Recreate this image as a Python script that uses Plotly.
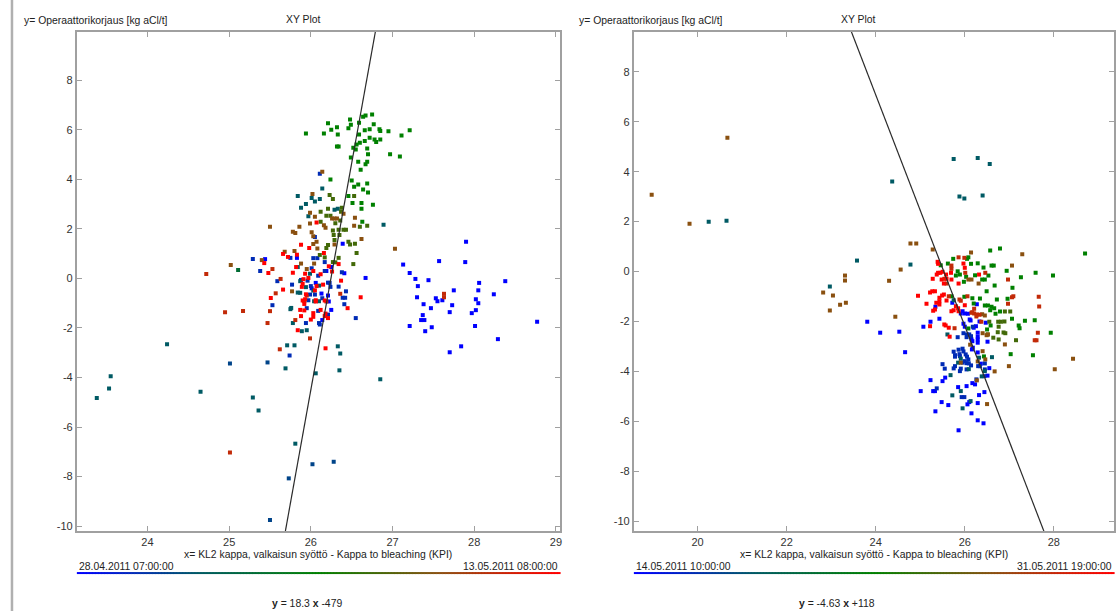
import plotly.graph_objects as go
from plotly.colors import sample_colorscale

# ---------------- data ----------------
# time band -> position in the time colour scale (0 = start date, 1 = end date)
BAND_T = {"blue": 0.0, "dblue": 0.12, "tealblue": 0.19, "teal": 0.25, "gteal": 0.37,
          "green": 0.5, "olive": 0.62, "brown": 0.75, "bred": 0.87, "red": 1.0}
TIME_COLORSCALE = [[0.0, "#0000ff"], [0.25, "#005a64"], [0.5, "#008000"],
                   [0.75, "#8a5010"], [1.0, "#ff0000"]]

X_TICKS_LEFT = [24, 25, 26, 27, 28, 29]
X_TICKS_RIGHT = [20, 22, 24, 26, 28]
Y_TICKS = [-10, -8, -6, -4, -2, 0, 2, 4, 6, 8]
Y_TICK_TEXT = ["-10", "-8", "-6", "-4", "-2", "0", "2", "4", "6", "8"]

# regression equations as printed under each plot
LEFT_SLOPE, LEFT_INTERCEPT = 18.3, -479
RIGHT_SLOPE, RIGHT_INTERCEPT = -4.63, 118
# regression lines as drawn in the picture (printed values are rounded)
LEFT_LINE = (18.3, -480.3)
RIGHT_LINE = (-4.63, 118.2)

LEFT_DATES = ("28.04.2011 07:00:00", "13.05.2011 08:00:00")
RIGHT_DATES = ("14.05.2011 10:00:00", "31.05.2011 19:00:00")
TITLE = "XY Plot"
Y_TITLE = "y= Operaattorikorjaus [kg aCl/t]"
X_TITLE = "x= KL2 kappa, valkaisun syöttö - Kappa to bleaching (KPI)"

# ---- left plot points (x, y) per time band ----
LEFT_BLUE = [(27.90, 1.48), (27.57, 0.70), (27.89, 0.66), (27.13, 0.56), (27.21, 0.22), (27.28, -0.02),
             (27.44, -0.07), (27.31, -0.31), (28.06, -0.18), (28.38, -0.11), (27.75, -0.48), (28.05, -0.48),
             (28.24, -0.64), (27.30, -0.76), (27.53, -0.80), (27.55, -0.92), (27.61, -0.88), (28.02, -0.84),
             (28.05, -1.00), (27.38, -1.04), (27.73, -1.08), (27.47, -1.20), (28.02, -1.28), (27.70, -1.36),
             (27.97, -1.40), (27.37, -1.48), (27.35, -1.68), (27.39, -1.68), (27.21, -1.92), (27.48, -1.97),
             (27.40, -2.13), (28.01, -1.92), (28.29, -2.45), (27.84, -2.74), (27.70, -2.98), (28.77, -1.75),
             (26.67, 0.02), (25.44, 0.78), (25.83, 0.83), (26.19, 0.30), (26.25, 0.46), (26.41, 0.21),
             (26.25, -1.27), (26.14, -1.68), (26.22, -0.93), (26.21, -0.69), (26.13, -0.61), (26.06, -0.18),
             (26.01, -0.40), (26.39, 1.40)]
LEFT_DBLUE = [(26.55, -1.60), (25.74, -3.11), (25.29, 0.78), (25.38, 0.30), (25.59, -0.11), (25.75, 0.83),
              (26.17, 0.66), (26.08, 0.82), (26.03, 0.82), (26.01, 0.41), (26.09, 0.11), (25.88, -0.06),
              (25.96, -0.09), (26.17, 0.30), (26.38, 0.25), (26.34, -0.33), (26.43, -0.52), (26.39, -0.78),
              (26.42, -0.78), (26.41, -1.04), (26.21, -1.46), (26.10, -1.80), (26.11, -1.86), (26.21, -0.17),
              (26.23, -0.18), (26.24, -0.34), (26.14, -0.80), (26.05, -0.65), (25.99, -0.65), (25.95, -1.20),
              (25.97, -0.88), (25.77, -0.25), (26.00, -0.31), (25.53, -1.08), (25.94, -1.80), (26.09, -1.31),
              (26.11, 4.23), (26.05, 1.67)]
LEFT_TEALBLUE = [(25.47, -3.39), (25.01, -3.43), (25.73, -8.07), (25.50, -9.75), (26.02, -7.50), (26.28, -7.40)]
LEFT_TEAL = [(23.38, -4.83), (23.53, -4.44), (23.55, -3.95), (24.24, -2.66), (25.81, -6.67), (26.85, -4.07),
             (26.35, -3.71), (26.36, -3.03), (26.33, -2.74), (26.06, -3.83), (25.71, -2.70), (25.80, -2.70),
             (25.69, -3.63), (25.29, -4.81), (25.36, -5.33), (24.65, -4.57), (25.84, 0.46), (25.99, 0.19),
             (26.10, -0.29), (26.04, -0.92), (26.10, -0.92), (25.87, -0.58), (25.84, -0.57), (25.87, -0.11),
             (25.94, -0.35), (26.03, -0.49), (25.75, -1.24), (25.76, -1.19), (25.78, -1.80), (25.89, -2.13),
             (25.95, -2.09), (26.14, 3.63), (25.84, 3.33), (26.01, 3.25), (26.05, 3.11), (26.11, 3.21),
             (25.94, 3.01), (25.88, 2.85), (26.29, 2.77), (26.33, 2.81), (25.97, 2.51), (26.89, 2.17)]
LEFT_GTEAL = [(25.11, 0.34)]
LEFT_GREEN = [(26.75, 6.62), (26.67, 6.58), (26.64, 6.53), (26.48, 6.42), (26.59, 6.28), (26.21, 6.26),
              (26.49, 6.20), (26.46, 6.06), (26.32, 6.10), (26.25, 6.00), (26.77, 6.22), (26.72, 6.02),
              (26.66, 5.98), (26.84, 6.02), (26.85, 5.95), (26.95, 5.94), (27.21, 5.98), (27.11, 5.77),
              (25.94, 5.85), (26.16, 5.85), (26.33, 5.81), (26.59, 5.81), (26.78, 5.61), (26.80, 5.51),
              (26.72, 5.68), (26.85, 5.61), (26.66, 5.55), (26.60, 5.48), (26.56, 5.41), (26.32, 5.33),
              (26.34, 5.33), (26.52, 5.28), (26.55, 5.21), (26.69, 5.25), (26.70, 5.01), (26.97, 5.01),
              (27.09, 4.92), (26.49, 4.88), (26.58, 4.71), (26.69, 4.71), (26.67, 4.61), (26.61, 4.39),
              (26.24, 3.99), (26.50, 3.95), (26.58, 3.79), (26.69, 3.83), (26.53, 3.70), (26.64, 3.59),
              (26.70, 3.47), (26.46, 3.33), (26.51, 3.05), (26.62, 3.05), (26.62, 2.81), (26.76, 2.97),
              (26.63, 2.29)]
LEFT_OLIVE = [(26.53, 3.33), (26.23, 3.37), (26.27, 3.21), (26.21, 2.81), (26.38, 2.85), (26.37, 2.69),
              (26.12, 2.69), (26.19, 2.53), (26.24, 2.53), (26.12, 2.29), (26.30, 2.23), (26.36, 2.34),
              (26.60, 2.09), (26.69, 2.13), (26.27, 1.94), (26.34, 1.97), (26.40, 1.97), (26.43, 1.97),
              (26.28, 1.75), (26.35, 1.75), (26.29, 1.55), (26.46, 1.48), (26.48, 1.37), (26.54, 1.40),
              (26.21, 1.35), (26.19, 1.23), (26.11, 0.95), (26.17, 0.85), (26.27, 0.66), (26.30, 0.65),
              (26.34, 0.83), (26.56, 1.03), (26.52, 0.58)]
LEFT_BROWN = [(26.14, 4.31), (26.02, 3.41), (26.40, 2.61), (25.99, 2.65), (26.05, 2.49), (26.26, 2.42),
              (26.29, 2.42), (26.32, 2.42), (26.54, 2.45), (25.99, 2.22), (26.16, 2.15), (26.18, 2.05),
              (26.53, 2.13), (25.50, 2.09), (25.86, 2.09), (25.78, 1.88), (25.81, 1.83), (26.01, 1.86),
              (26.03, 1.70), (26.07, 1.48), (26.62, 1.59), (26.29, 1.37), (26.03, 1.39), (27.03, 1.20),
              (26.08, 1.21), (25.02, 0.54), (25.40, 0.74), (25.68, 1.08), (25.80, 1.11), (25.88, 0.60),
              (25.95, 0.38), (26.04, 0.60), (25.77, -0.52)]
LEFT_BRED = [(25.01, -7.03), (27.63, -0.62), (27.63, -0.76), (25.99, -2.42), (25.62, -2.86), (24.72, 0.18),
             (24.95, -1.36), (25.17, -1.31), (25.53, 0.38), (25.63, -0.02), (26.36, -0.62), (26.19, -0.93),
             (25.95, -0.69), (25.92, -0.92), (25.57, -0.60), (25.50, -1.32), (25.81, -1.68), (25.47, -1.80)]
LEFT_RED = [(26.61, -0.76), (26.18, -2.82), (25.43, 0.62), (25.48, 0.22), (25.66, 0.99), (25.72, 0.87),
            (25.83, 0.96), (25.98, 1.23), (25.88, 1.36), (26.16, 1.03), (25.82, 0.46), (25.78, 0.23),
            (26.03, 0.30), (25.97, 0.02), (25.93, 0.19), (25.91, -0.03), (26.12, 0.17), (26.22, 0.49),
            (26.26, 0.28), (26.34, 0.58), (26.37, -0.09), (26.45, -1.20), (26.18, -1.42), (26.17, -1.52),
            (26.21, -1.60), (26.15, -0.25), (26.17, -0.89), (26.07, -0.31), (26.05, -0.48), (26.06, -0.88),
            (26.06, -0.93), (25.93, -0.84), (25.90, -0.89), (25.92, -1.03), (25.94, -0.64), (25.89, -0.34),
            (25.90, -0.22), (25.66, -0.45), (25.51, -0.79), (25.87, -1.27), (25.92, -1.29), (25.88, -1.52),
            (26.03, -1.40), (26.03, -1.55), (26.00, -1.66), (26.12, -1.27), (25.84, -2.09), (26.07, 2.26)]

# ---- right plot points (x, y) per time band ----
RIGHT_BLUE = [(23.81, -2.01), (24.10, -2.45), (24.53, -2.41), (24.66, -3.23), (25.72, -1.25), (25.34, -1.41),
              (25.43, -1.89), (25.23, -2.01), (25.07, -2.21), (25.91, -1.68), (25.95, -1.59), (26.00, -1.68),
              (26.11, -1.92), (26.13, -1.96), (26.07, -1.69), (26.25, -2.19), (26.33, -2.00), (26.47, -2.05),
              (25.97, -2.09), (26.00, -2.21), (26.20, -2.25), (26.15, -2.72), (26.17, -2.79), (26.18, -3.05),
              (26.16, -3.12), (26.29, -2.72), (26.29, -2.61), (26.29, -2.45), (26.29, -2.85), (26.51, -2.81),
              (26.29, -3.24), (26.36, -3.69), (26.55, -3.87), (25.56, -4.25), (25.50, -4.39), (25.23, -4.35),
              (25.29, -4.79), (25.33, -4.79), (25.01, -4.79), (25.85, -4.63), (26.04, -4.59), (26.17, -4.47),
              (26.23, -4.52), (26.51, -4.17), (26.32, -4.95), (26.44, -4.83), (25.48, -5.23), (25.63, -5.35),
              (26.06, -5.32), (26.10, -5.23), (26.29, -5.27), (25.34, -5.60), (26.15, -5.68), (26.29, -5.96),
              (26.42, -6.08), (25.86, -6.36), (26.27, -1.31)]
RIGHT_DBLUE = [(25.84, -2.63), (25.97, -2.47), (26.05, -2.52), (26.04, -2.63), (26.10, -2.52), (26.14, -2.59),
               (26.45, -3.68), (26.30, -3.79), (26.34, -3.79), (26.45, -3.92), (25.95, -3.65), (25.75, -3.21),
               (25.78, -3.35), (25.78, -3.41), (25.86, -3.13), (25.88, -3.31), (25.89, -3.39), (25.95, -3.09),
               (25.97, -3.20), (26.02, -3.32), (26.05, -3.41), (26.08, -3.52), (26.00, -3.59), (26.04, -3.67),
               (26.09, -3.68), (26.14, -3.76), (25.78, -3.79), (25.75, -3.88), (25.91, -3.89), (25.89, -3.99),
               (26.04, -3.92), (25.50, -3.71), (25.55, -3.89), (25.37, -4.68), (26.26, -4.32), (26.44, -4.19),
               (25.93, -5.03), (25.99, -5.03), (26.18, -2.21)]
RIGHT_TEALBLUE = []
RIGHT_TEAL = [(25.75, 4.51), (26.29, 4.55), (26.56, 4.31), (24.37, 3.61), (25.88, 3.01), (25.99, 2.93),
              (26.40, 3.05), (20.25, 2.00), (20.65, 2.04), (23.58, 0.44), (22.97, -0.60), (24.78, 0.28),
              (25.75, -1.15), (25.61, -2.52), (26.32, -3.45), (26.61, -3.43), (25.91, -3.49), (25.85, -3.65),
              (26.09, -3.91), (25.68, -4.15), (26.38, -4.20), (26.45, -3.99), (25.91, -4.79), (25.72, -4.96),
              (26.13, -5.19), (25.95, -5.48)]
RIGHT_GTEAL = []
RIGHT_GREEN = [(25.46, 0.25), (25.62, 0.32), (25.74, 0.51), (26.08, 0.57), (26.05, 0.51), (25.84, 0.01),
               (25.89, -0.12), (26.14, 0.31), (26.29, 0.33), (26.42, 0.16), (26.57, 0.84), (26.79, 0.92),
               (26.60, 0.24), (26.65, 0.24), (26.94, 0.03), (27.59, -0.05), (27.98, -0.16), (25.80, -0.16),
               (25.98, -0.41), (26.03, -0.21), (26.23, -0.15), (26.53, -0.16), (26.39, -0.32), (26.45, -0.32),
               (26.49, -0.79), (26.67, -0.56), (27.07, -0.65), (27.26, -0.23), (26.96, -1.09), (26.72, -1.12),
               (25.70, -0.99), (25.99, -1.01), (26.17, -1.07), (26.20, -1.28), (26.34, -1.08), (26.45, -1.36),
               (26.52, -1.36), (26.60, -1.41), (26.66, -1.47), (26.57, -1.55), (26.69, -1.69), (26.79, -1.60),
               (26.58, -2.16), (27.06, -1.89), (27.35, -1.97), (27.57, -1.95), (27.21, -2.16), (27.23, -2.27),
               (26.50, -2.32), (27.93, -2.45), (27.03, -3.31), (27.53, -3.35), (26.08, -2.28), (26.43, -3.40),
               (28.70, 0.72)]
RIGHT_OLIVE = [(26.90, -1.60), (27.02, -1.60), (26.55, -2.01), (26.75, -2.01), (26.81, -2.01), (26.89, -2.00),
               (26.76, -2.21), (26.51, -2.52), (26.74, -2.43), (26.87, -2.44), (26.91, -2.47), (26.64, -2.65),
               (26.76, -2.72), (27.15, -2.75)]
RIGHT_BROWN = [(18.97, 3.08), (19.82, 1.92), (20.67, 5.36), (23.31, -0.16), (23.31, -0.36), (22.82, -0.84),
               (23.04, -0.96), (23.33, -1.25), (23.20, -1.33), (22.97, -1.56), (24.78, 1.12), (24.91, 1.12),
               (25.28, 0.88), (24.56, 0.08), (24.30, -0.37), (24.44, -1.81), (26.14, 0.76), (27.29, 0.69),
               (27.06, 0.24), (26.08, -0.32), (26.15, -0.32), (26.31, -0.48), (26.39, -1.71), (26.90, -2.92),
               (26.99, -3.79), (26.67, -4.00), (28.02, -3.91), (28.43, -3.49), (26.45, -1.76), (26.12, -2.93),
               (26.40, -2.47), (26.49, -2.55), (26.52, -2.52), (26.40, -3.19), (26.46, -3.52), (26.29, -3.60),
               (26.27, -4.36), (26.50, -5.31), (25.91, -3.65)]
RIGHT_BRED = [(25.54, -0.29), (25.70, 0.24), (25.70, 0.11), (25.86, 0.57), (25.99, 0.55), (26.01, -0.05),
              (26.46, -0.05), (26.97, -0.32), (27.06, -1.03), (27.09, -0.99), (26.97, -1.29), (27.66, -1.01),
              (27.67, -1.40), (25.88, -1.12), (25.91, -1.17), (26.06, -0.99), (26.21, -1.49), (26.21, -1.68),
              (26.27, -1.72), (26.33, -1.73), (27.57, -2.75), (27.61, -2.75), (27.64, -2.45), (25.77, -2.27),
              (26.15, -1.65), (26.17, -1.63), (26.37, -2.01), (26.26, -1.80), (25.59, -0.48), (25.64, -0.99)]
RIGHT_RED = [(25.39, 0.39), (25.40, 0.31), (25.40, -0.05), (25.45, -0.05), (25.37, -0.12), (25.50, -0.01),
             (25.58, -0.12), (25.59, -0.29), (25.97, 0.32), (26.00, 0.15), (25.70, -0.32), (25.86, -0.48),
             (26.32, -0.12), (25.22, -0.84), (25.27, -0.79), (25.33, -0.79), (24.95, -0.97), (25.14, -1.29),
             (25.36, -1.25), (25.29, -1.57), (25.33, -1.52), (25.43, -1.05), (25.43, -1.19), (25.43, -1.32),
             (25.49, -0.96), (25.53, -0.92), (25.59, -1.16), (25.80, -1.39), (25.85, -1.47), (25.86, -1.59),
             (25.70, -1.59), (25.75, -1.55), (26.00, -1.35), (25.22, -2.19), (25.54, -2.12), (25.57, -2.16),
             (25.64, -2.25), (25.66, -2.61), (25.28, -0.29), (25.48, -0.32), (25.53, -0.48), (25.69, -0.05)]

LEFT_BANDS = {"blue": LEFT_BLUE, "dblue": LEFT_DBLUE, "tealblue": LEFT_TEALBLUE, "teal": LEFT_TEAL,
              "gteal": LEFT_GTEAL, "green": LEFT_GREEN, "olive": LEFT_OLIVE, "brown": LEFT_BROWN,
              "bred": LEFT_BRED, "red": LEFT_RED}
RIGHT_BANDS = {"blue": RIGHT_BLUE, "dblue": RIGHT_DBLUE, "tealblue": RIGHT_TEALBLUE, "teal": RIGHT_TEAL,
               "gteal": RIGHT_GTEAL, "green": RIGHT_GREEN, "olive": RIGHT_OLIVE, "brown": RIGHT_BROWN,
               "bred": RIGHT_BRED, "red": RIGHT_RED}

# ---------------- layout geometry (pixels) ----------------
W, H = 1119, 612
LEFT_BOX = (77, 561)
RIGHT_BOX = (635, 1116)
BOX_TOP, BOX_BOTTOM = 32, 532
LEFT_XRANGE = [23.136, 29.05]
RIGHT_XRANGE = [18.57, 29.35]
LEFT_YRANGE = [-10.2, 9.95]
RIGHT_YRANGE = [-10.4, 9.6]

FONT = "Liberation Sans, Arial, sans-serif"
TEXT_COLOR = "#222222"
AXIS_COLOR = "#a0a0a0"
TEXT_SIZE = 10.4


def fx(px):
    return px / W


def fy(py):
    return 1 - py / H


fig = go.Figure()

for bands, xa, ya in ((LEFT_BANDS, "x", "y"), (RIGHT_BANDS, "x2", "y2")):
    for name, pts in bands.items():
        if not pts:
            continue
        fig.add_trace(go.Scatter(
            x=[p[0] for p in pts], y=[p[1] for p in pts], mode="markers",
            xaxis=xa, yaxis=ya, showlegend=False, hoverinfo="x+y",
            marker=dict(symbol="square", size=4, color=[BAND_T[name]] * len(pts),
                        colorscale=TIME_COLORSCALE, cmin=0, cmax=1, line=dict(width=0)),
        ))

# regression lines
for (slope, icpt), xr, xa, ya in ((LEFT_LINE, LEFT_XRANGE, "x", "y"),
                                  (RIGHT_LINE, RIGHT_XRANGE, "x2", "y2")):
    fig.add_trace(go.Scatter(
        x=xr, y=[slope * v + icpt for v in xr], mode="lines", xaxis=xa, yaxis=ya,
        showlegend=False, hoverinfo="skip", line=dict(color="#2a2a2a", width=1.2),
    ))

axis_common = dict(showline=True, mirror="ticks", linecolor=AXIS_COLOR, linewidth=2,
                   ticks="inside", ticklen=5, tickwidth=1, tickcolor=AXIS_COLOR,
                   showgrid=False, zeroline=False, fixedrange=True,
                   tickfont=dict(family=FONT, size=11, color="#333333"))

fig.update_layout(
    width=W, height=H, margin=dict(l=0, r=0, t=0, b=0),
    paper_bgcolor="white", plot_bgcolor="white",
    xaxis=dict(domain=[fx(LEFT_BOX[0]), fx(LEFT_BOX[1])], range=LEFT_XRANGE, anchor="y",
               tickvals=X_TICKS_LEFT, ticktext=[str(v) for v in X_TICKS_LEFT], **axis_common),
    yaxis=dict(domain=[fy(BOX_BOTTOM), fy(BOX_TOP)], range=LEFT_YRANGE, anchor="x",
               tickvals=Y_TICKS, ticktext=Y_TICK_TEXT, **axis_common),
    xaxis2=dict(domain=[fx(RIGHT_BOX[0]), fx(RIGHT_BOX[1])], range=RIGHT_XRANGE, anchor="y2",
                tickvals=X_TICKS_RIGHT, ticktext=[str(v) for v in X_TICKS_RIGHT], **axis_common),
    yaxis2=dict(domain=[fy(BOX_BOTTOM), fy(BOX_TOP)], range=RIGHT_YRANGE, anchor="x2",
                tickvals=Y_TICKS, ticktext=Y_TICK_TEXT, **axis_common),
)

annotations = []
shapes = []


def text(px, py, s, xanchor="center", size=TEXT_SIZE):
    annotations.append(dict(x=fx(px), y=fy(py), xref="paper", yref="paper", text=s,
                            showarrow=False, xanchor=xanchor, yanchor="middle",
                            font=dict(family=FONT, size=size, color=TEXT_COLOR)))


panels = [
    (LEFT_BOX, 304, 22, LEFT_DATES, LEFT_SLOPE, LEFT_INTERCEPT, 308),
    (RIGHT_BOX, 860, 578, RIGHT_DATES, RIGHT_SLOPE, RIGHT_INTERCEPT, 838),
]
for box, title_cx, ytitle_x, dates, slope, icpt, eq_cx in panels:
    text(title_cx, 20, TITLE)
    text(ytitle_x, 21, Y_TITLE, xanchor="left")
    text((box[0] + box[1]) / 2, 555, X_TITLE)
    text(box[0], 567, dates[0], xanchor="left")
    text(box[1], 567, dates[1], xanchor="right")
    text(eq_cx, 604, f"<b>y</b> = {slope:g} <b>x</b> {icpt:+g}")
    # time gradient bar under the dates
    n = 160
    cols = sample_colorscale(TIME_COLORSCALE, [i / (n - 1) for i in range(n)])
    seg = (box[1] - box[0]) / n
    for i in range(n):
        shapes.append(dict(type="line", xref="paper", yref="paper",
                           x0=fx(box[0] + i * seg), x1=fx(box[0] + (i + 1) * seg + 0.6),
                           y0=fy(574), y1=fy(574), line=dict(color=cols[i], width=2)))

# grey frame edge at the far left
shapes.append(dict(type="line", xref="paper", yref="paper", x0=fx(12), x1=fx(12), y0=0, y1=1,
                   line=dict(color="#b0b0b0", width=2.5)))

fig.update_layout(annotations=annotations, shapes=shapes)
fig.write_html("out.html", config={"displayModeBar": False},
               post_script="document.body.style.margin='0';document.body.style.padding='0';"
                           "document.body.style.overflow='hidden';")
